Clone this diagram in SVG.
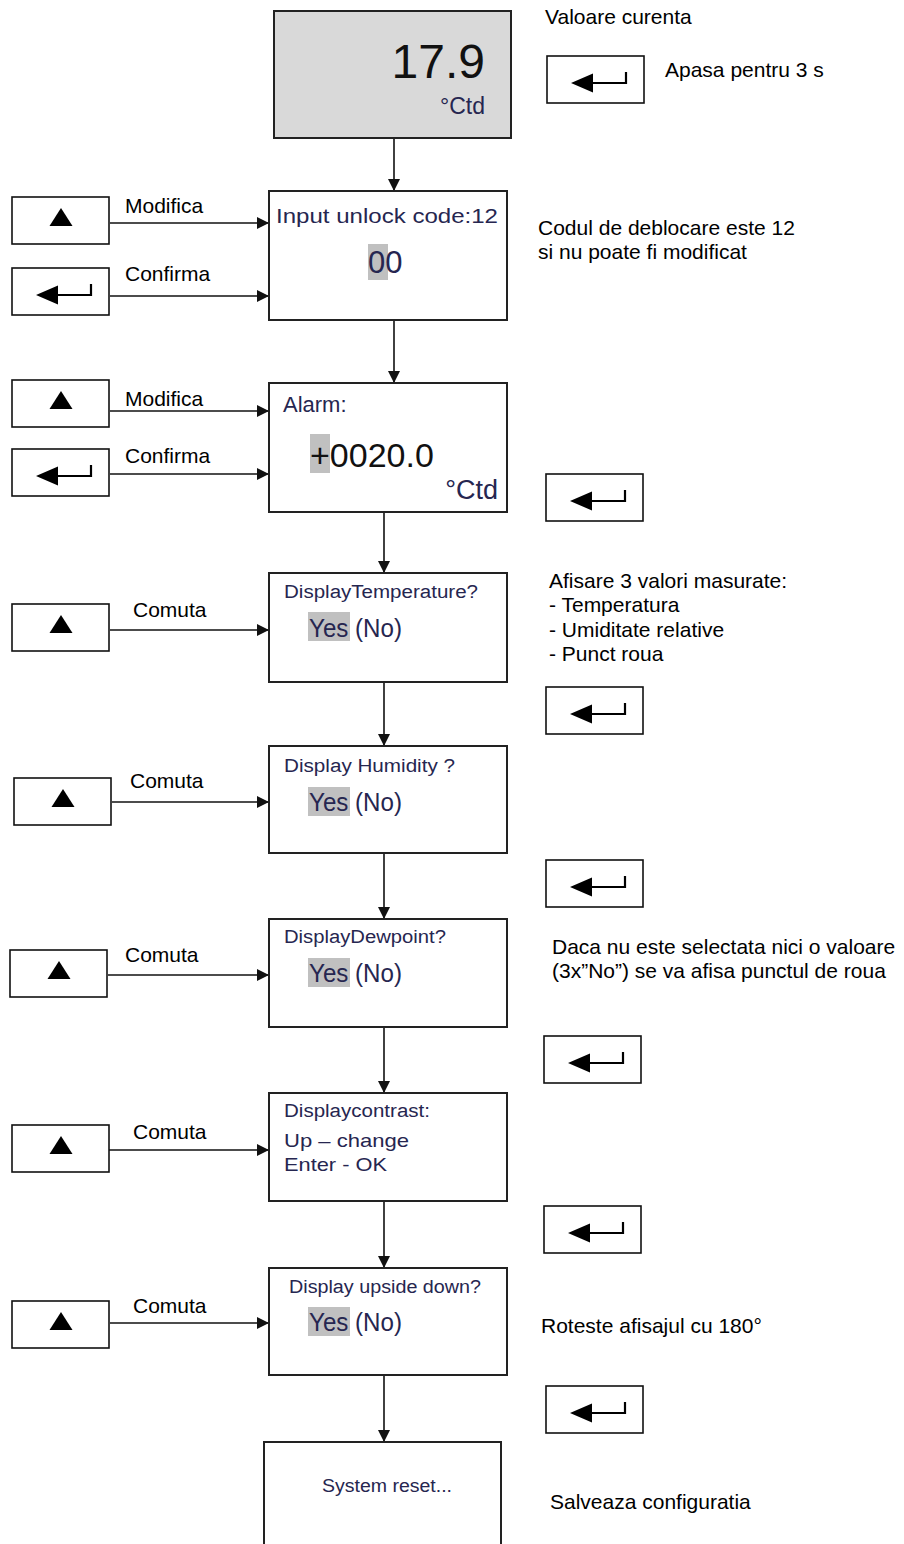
<svg xmlns="http://www.w3.org/2000/svg" xmlns:xlink="http://www.w3.org/1999/xlink" width="904" height="1544" viewBox="0 0 904 1544">
<style>
.lbl{font-family:"Liberation Sans",Arial,sans-serif;font-size:21px;fill:#000}
.lcd{font-family:"Liberation Sans",Arial,sans-serif;fill:#262650}
.dark{fill:#111}
.box{fill:#fff;stroke:#222;stroke-width:2}
.btn{fill:#fff;stroke:#111;stroke-width:1.6}
.hl{fill:#c0c0c0}
.conn{stroke:#111;stroke-width:1.6;fill:none}
</style>
<defs>
<marker id="ah" markerUnits="userSpaceOnUse" markerWidth="13" markerHeight="12" refX="12" refY="6" orient="auto">
<path d="M0,0 L12,6 L0,12 z" fill="#111"/>
</marker>
<g id="enterBtn">
<rect class="btn" x="0" y="0" width="97" height="47"/>
<path d="M24,27 L46,17.5 L46,36.5 z" fill="#000"/>
<path d="M45,27 L79,27 L79,16" stroke="#000" stroke-width="2.2" fill="none"/>
</g>
<g id="upBtn">
<rect class="btn" x="0" y="0" width="97" height="47"/>
<path d="M49,11 L60.5,29 L37.5,29 z" fill="#000"/>
</g>
</defs>
<rect width="904" height="1544" fill="#fff"/>

<g id="connectors">
<line class="conn" x1="394" y1="138" x2="394" y2="191" marker-end="url(#ah)"/>
<line class="conn" x1="394" y1="320" x2="394" y2="383" marker-end="url(#ah)"/>
<line class="conn" x1="384" y1="512" x2="384" y2="573" marker-end="url(#ah)"/>
<line class="conn" x1="384" y1="682" x2="384" y2="746" marker-end="url(#ah)"/>
<line class="conn" x1="384" y1="853" x2="384" y2="919" marker-end="url(#ah)"/>
<line class="conn" x1="384" y1="1027" x2="384" y2="1093" marker-end="url(#ah)"/>
<line class="conn" x1="384" y1="1201" x2="384" y2="1268" marker-end="url(#ah)"/>
<line class="conn" x1="384" y1="1375" x2="384" y2="1442" marker-end="url(#ah)"/>
<line class="conn" x1="110" y1="223" x2="269" y2="223" marker-end="url(#ah)"/>
<line class="conn" x1="110" y1="296" x2="269" y2="296" marker-end="url(#ah)"/>
<line class="conn" x1="110" y1="411" x2="269" y2="411" marker-end="url(#ah)"/>
<line class="conn" x1="110" y1="474" x2="269" y2="474" marker-end="url(#ah)"/>
<line class="conn" x1="110" y1="630" x2="269" y2="630" marker-end="url(#ah)"/>
<line class="conn" x1="112" y1="802" x2="269" y2="802" marker-end="url(#ah)"/>
<line class="conn" x1="108" y1="975" x2="269" y2="975" marker-end="url(#ah)"/>
<line class="conn" x1="109" y1="1150" x2="269" y2="1150" marker-end="url(#ah)"/>
<line class="conn" x1="110" y1="1323" x2="269" y2="1323" marker-end="url(#ah)"/>
<text class="lbl" x="125" y="213">Modifica</text>
<text class="lbl" x="125" y="281">Confirma</text>
<text class="lbl" x="125" y="406">Modifica</text>
<text class="lbl" x="125" y="463">Confirma</text>
<text class="lbl" x="133" y="617">Comuta</text>
<text class="lbl" x="130" y="788">Comuta</text>
<text class="lbl" x="125" y="962">Comuta</text>
<text class="lbl" x="133" y="1139">Comuta</text>
<text class="lbl" x="133" y="1313">Comuta</text>
</g>

<g id="node-current">
<rect x="274" y="11" width="237" height="127" fill="#d9d9d9" stroke="#222" stroke-width="2"/>
<text class="lcd dark" x="485" y="78" font-size="48" text-anchor="end">17.9</text>
<text class="lcd" x="485" y="114" font-size="23" text-anchor="end">°Ctd</text>
</g>

<g id="node-unlock">
<rect class="box" x="269" y="191" width="238" height="129"/>
<text class="lcd" x="276" y="223" font-size="21" textLength="222" lengthAdjust="spacingAndGlyphs">Input unlock code:12</text>
<rect class="hl" x="368" y="244" width="20" height="36"/>
<text class="lcd" x="368" y="273" font-size="31">00</text>
</g>

<g id="node-alarm">
<rect class="box" x="269" y="383" width="238" height="129"/>
<text class="lcd" x="283" y="412" font-size="22">Alarm:</text>
<rect class="hl" x="310" y="434" width="20" height="39"/>
<text class="lcd dark" x="310" y="467" font-size="34">+0020.0</text>
<text class="lcd" x="498" y="499" font-size="27" text-anchor="end">°Ctd</text>
</g>

<g id="node-temp">
<rect class="box" x="269" y="573" width="238" height="109"/>
<text class="lcd" x="284" y="598" font-size="18" textLength="194" lengthAdjust="spacingAndGlyphs">DisplayTemperature?</text>
<rect class="hl" x="308" y="612" width="42" height="29"/>
<text class="lcd" x="309" y="637" font-size="25" textLength="93" lengthAdjust="spacingAndGlyphs">Yes (No)</text>
</g>

<g id="node-hum">
<rect class="box" x="269" y="746" width="238" height="107"/>
<text class="lcd" x="284" y="772" font-size="18" textLength="171" lengthAdjust="spacingAndGlyphs">Display Humidity ?</text>
<rect class="hl" x="308" y="787" width="42" height="29"/>
<text class="lcd" x="309" y="811" font-size="25" textLength="93" lengthAdjust="spacingAndGlyphs">Yes (No)</text>
</g>

<g id="node-dew">
<rect class="box" x="269" y="919" width="238" height="108"/>
<text class="lcd" x="284" y="943" font-size="18" textLength="162" lengthAdjust="spacingAndGlyphs">DisplayDewpoint?</text>
<rect class="hl" x="308" y="958" width="42" height="29"/>
<text class="lcd" x="309" y="982" font-size="25" textLength="93" lengthAdjust="spacingAndGlyphs">Yes (No)</text>
</g>

<g id="node-contrast">
<rect class="box" x="269" y="1093" width="238" height="108"/>
<text class="lcd" x="284" y="1117" font-size="18" textLength="146" lengthAdjust="spacingAndGlyphs">Displaycontrast:</text>
<text class="lcd" x="284" y="1147" font-size="19" textLength="125" lengthAdjust="spacingAndGlyphs">Up – change</text>
<text class="lcd" x="284" y="1171" font-size="19" textLength="103" lengthAdjust="spacingAndGlyphs">Enter - OK</text>
</g>

<g id="node-upside">
<rect class="box" x="269" y="1268" width="238" height="107"/>
<text class="lcd" x="289" y="1293" font-size="18" textLength="192" lengthAdjust="spacingAndGlyphs">Display upside down?</text>
<rect class="hl" x="308" y="1307" width="42" height="29"/>
<text class="lcd" x="309" y="1331" font-size="25" textLength="93" lengthAdjust="spacingAndGlyphs">Yes (No)</text>
</g>

<g id="node-reset">
<path d="M264,1546 L264,1442 L501,1442 L501,1546" fill="#fff" stroke="#222" stroke-width="2"/>
<text class="lcd" x="322" y="1492" font-size="18" textLength="130" lengthAdjust="spacingAndGlyphs">System reset...</text>
</g>

<g id="buttons-left">
<use xlink:href="#upBtn" x="12" y="197"/>
<use xlink:href="#enterBtn" x="12" y="268"/>
<use xlink:href="#upBtn" x="12" y="380"/>
<use xlink:href="#enterBtn" x="12" y="449"/>
<use xlink:href="#upBtn" x="12" y="604"/>
<use xlink:href="#upBtn" x="14" y="778"/>
<use xlink:href="#upBtn" x="10" y="950"/>
<use xlink:href="#upBtn" x="12" y="1125"/>
<use xlink:href="#upBtn" x="12" y="1301"/>
</g>

<g id="buttons-right">
<use xlink:href="#enterBtn" x="547" y="56"/>
<use xlink:href="#enterBtn" x="546" y="474"/>
<use xlink:href="#enterBtn" x="546" y="687"/>
<use xlink:href="#enterBtn" x="546" y="860"/>
<use xlink:href="#enterBtn" x="544" y="1036"/>
<use xlink:href="#enterBtn" x="544" y="1206"/>
<use xlink:href="#enterBtn" x="546" y="1386"/>
</g>

<g id="notes">
<text class="lbl" x="545" y="24" font-size="20">Valoare curenta</text>
<text class="lbl" x="665" y="77">Apasa pentru 3 s</text>
<text class="lbl" x="538" y="235">Codul de deblocare este 12</text>
<text class="lbl" x="538" y="259">si nu poate fi modificat</text>
<text class="lbl" x="549" y="588">Afisare 3 valori masurate:</text>
<text class="lbl" x="549" y="612">- Temperatura</text>
<text class="lbl" x="549" y="637">- Umiditate relative</text>
<text class="lbl" x="549" y="661">- Punct roua</text>
<text class="lbl" x="552" y="954">Daca nu este selectata nici o valoare</text>
<text class="lbl" x="552" y="978">(3x”No”) se va afisa punctul de roua</text>
<text class="lbl" x="541" y="1333">Roteste afisajul cu 180°</text>
<text class="lbl" x="550" y="1509">Salveaza configuratia</text>
</g>
</svg>
